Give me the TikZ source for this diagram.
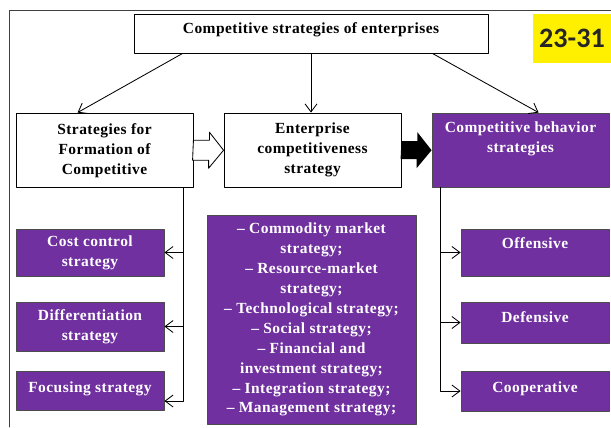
\documentclass[tikz,border=0pt]{standalone}
\usepackage{fontspec}
\setmainfont{Liberation Serif}[LetterSpace=3]
\newfontfamily\tagfont{Carlito}
\usetikzlibrary{arrows.meta}

\definecolor{stratpurple}{RGB}{112,48,160}
\definecolor{tagyellow}{RGB}{255,240,0}

\tikzset{
  box/.style={draw=black,fill=white,line width=0.6pt,align=center,inner sep=1pt,
    font=\fontsize{11}{14.2}\selectfont\bfseries},
  pbox/.style={box,draw=black!70,fill=stratpurple,text=white},
  link/.style={line width=0.6pt,-{Straight Barb[length=2mm,width=3mm]}}
}

\begin{document}
\begin{tikzpicture}[x=1cm,y=1cm,line cap=round,line join=round]
  \useasboundingbox (0,0) rectangle (15.275,10.675);

  % Frame, running off the page on the right and at the bottom
  \draw[line width=0.7pt,black!75] (0.225,0) -- (0.225,10.425) -- (15.275,10.425);

  % Page tag
  \node[fill=tagyellow,minimum width=1.95cm,minimum height=1.225cm,inner sep=0pt,
    font=\tagfont\fontsize{20}{20}\selectfont\bfseries,text=black!85] (tag) at (14.3,9.7125) {23-31};

  % Top level and the three strategy groups
  \node[box,minimum width=8.85cm,minimum height=0.9625cm,text depth=8pt] (top) at (7.775,9.831) {Competitive strategies of enterprises};
  \node[box,minimum width=4.425cm,minimum height=1.8625cm] (form) at (2.6125,6.919) {Strategies for\\Formation of\\Competitive};
  \node[box,minimum width=4.425cm,minimum height=1.8625cm] (ecs) at (7.8125,6.919) {Enterprise\\competitiveness\\strategy};
  \node[pbox,minimum width=4.425cm,minimum height=1.8625cm,text depth=19pt] (behav) at (13.0125,6.919) {Competitive behavior\\strategies};

  \draw[link] ([xshift=1.225cm]top.south west) -- ([xshift=1.55cm]form.north west);
  \draw[link] (top.south) -- (top.south |- ecs.north);
  \draw[link] ([xshift=-1.4cm]top.south east) -- ([xshift=2.675cm]behav.north west);

  % Hollow and solid block arrows between the groups
  \draw[line width=0.6pt,fill=white] (form.east) ++(0,0.25) -- ++(0.4,0) -- ++(0,0.2)
    -- (ecs.west) -- ++(-0.375,-0.45) -- ++(0,0.2) -- ++(-0.4,0) -- cycle;
  \fill[black] (ecs.east) ++(0,0.225) -- ++(0.4,0) -- ++(0,0.225)
    -- (behav.west) -- ++(-0.375,-0.45) -- ++(0,0.225) -- ++(-0.4,0) -- cycle;

  % Generic strategies (left), functional list (middle), behaviour types (right)
  \node[pbox,minimum width=3.7cm,minimum height=1.175cm] (cost) at (2.25,4.3625) {Cost control\\strategy};
  \node[pbox,minimum width=3.7cm,minimum height=1.225cm] (diff) at (2.25,2.5125) {Differentiation\\strategy};
  \node[pbox,minimum width=3.7cm,minimum height=0.975cm,text depth=5.2pt] (focus) at (2.25,0.9125) {Focusing strategy};
  \node[pbox,minimum width=5.225cm,minimum height=5.225cm] (tools) at (7.7875,2.6875)
    {– Commodity market\\strategy;\\– Resource-market\\strategy;\\– Technological strategy;\\– Social strategy;\\– Financial and\\investment strategy;\\– Integration strategy;\\– Management strategy;};
  \node[pbox,minimum width=3.7cm,minimum height=1.175cm,text depth=13.5pt] (offens) at (13.375,4.3625) {Offensive};
  \node[pbox,minimum width=3.7cm,minimum height=1.025cm,text depth=7.8pt] (defens) at (13.375,2.6125) {Defensive};
  \node[pbox,minimum width=3.7cm,minimum height=1.0cm,text depth=5.8pt] (coop) at (13.375,0.9) {Cooperative};

  % Branch lines
  \draw[link] ([xshift=-0.25cm]form.south east) |- (cost.east);
  \draw[link] ([xshift=-0.25cm]form.south east) |- (diff.east);
  \draw[link] ([xshift=-0.25cm]form.south east) |- ([yshift=-0.2625cm]focus.east);
  \draw[link] ([xshift=0.225cm]behav.south west) |- (offens.west);
  \draw[link] ([xshift=0.225cm]behav.south west) |- (defens.west);
  \draw[link] ([xshift=0.225cm]behav.south west) |- (coop.west);
\end{tikzpicture}
\end{document}
